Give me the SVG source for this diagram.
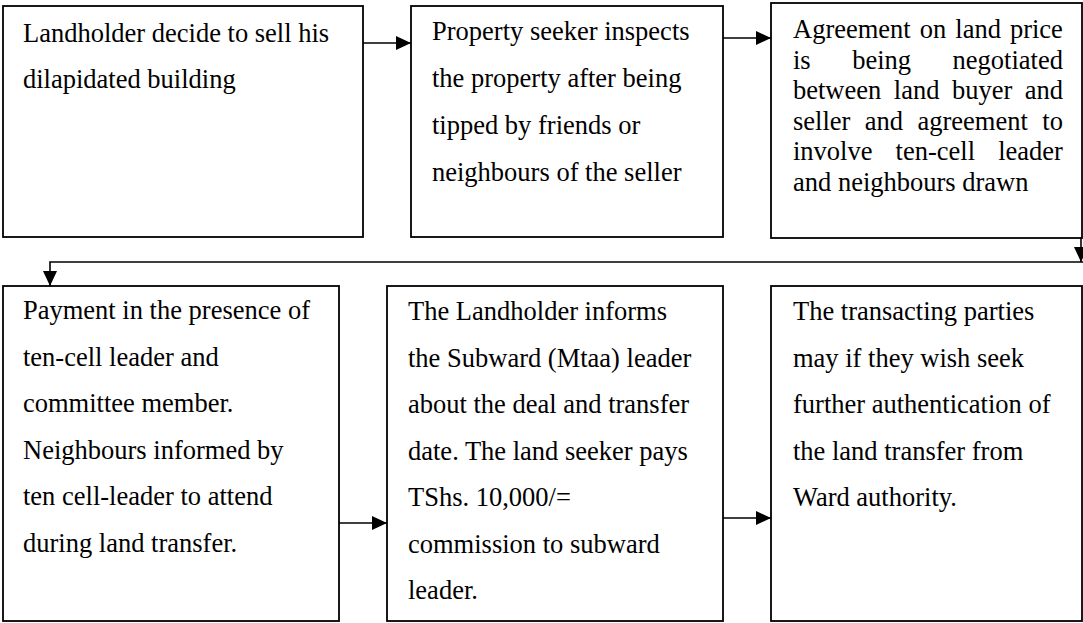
<svg xmlns="http://www.w3.org/2000/svg" width="1083" height="623" viewBox="0 0 1083 623">
<style>
.box{fill:#fff;stroke:#000;stroke-width:1.8}
.t{font-family:"Liberation Serif","Times New Roman",serif;font-size:26.5px;fill:#000}
.c{fill:none;stroke:#000;stroke-width:1.6}
</style>
<defs>
<marker id="ah" markerUnits="userSpaceOnUse" markerWidth="16" markerHeight="14" refX="15" refY="7" orient="auto">
<path d="M0,0 L15,7 L0,14 z" fill="#000"/>
</marker>
</defs>
<rect width="1083" height="623" fill="#fff"/>
<g id="connectors">
<line class="c" x1="363" y1="43" x2="411" y2="43" marker-end="url(#ah)"/>
<line class="c" x1="723" y1="38" x2="771" y2="38" marker-end="url(#ah)"/>
<line class="c" x1="1081" y1="238" x2="1081" y2="262" marker-end="url(#ah)"/>
<polyline class="c" points="1083,262 50,262 50,286" marker-end="url(#ah)"/>
<line class="c" x1="339" y1="523" x2="387" y2="523" marker-end="url(#ah)"/>
<line class="c" x1="723" y1="518" x2="771" y2="518" marker-end="url(#ah)"/>
</g>
<g id="n1">
<rect class="box" x="3" y="6" width="360" height="231"/>
<text class="t" x="23" y="42">Landholder decide to sell his</text>
<text class="t" x="23" y="88">dilapidated building</text>
</g>
<g id="n2">
<rect class="box" x="411" y="6" width="312" height="231"/>
<text class="t" x="432" y="40">Property seeker inspects</text>
<text class="t" x="432" y="87">the property after being</text>
<text class="t" x="432" y="134">tipped by friends or</text>
<text class="t" x="432" y="181">neighbours of the seller</text>
</g>
<g id="n3">
<rect class="box" x="771" y="3" width="311" height="235"/>
<text class="t" x="793" y="38" word-spacing="2.4">Agreement on land price</text>
<text class="t" x="793" y="68.6" word-spacing="34.9">is being negotiated</text>
<text class="t" x="793" y="99.2" word-spacing="5.9">between land buyer and</text>
<text class="t" x="793" y="129.8" word-spacing="7.8">seller and agreement to</text>
<text class="t" x="793" y="160.4" word-spacing="16.5">involve ten-cell leader</text>
<text class="t" x="793" y="191">and neighbours drawn</text>
</g>
<g id="n4">
<rect class="box" x="3" y="286" width="336" height="335"/>
<text class="t" x="23" y="319">Payment in the presence of</text>
<text class="t" x="23" y="365.5">ten-cell leader and</text>
<text class="t" x="23" y="412">committee member.</text>
<text class="t" x="23" y="458.5">Neighbours informed by</text>
<text class="t" x="23" y="505">ten cell-leader to attend</text>
<text class="t" x="23" y="551.5">during land transfer.</text>
</g>
<g id="n5">
<rect class="box" x="387" y="286" width="336" height="335"/>
<text class="t" x="408" y="320">The Landholder informs</text>
<text class="t" x="408" y="366.5">the Subward (Mtaa) leader</text>
<text class="t" x="408" y="413">about the deal and transfer</text>
<text class="t" x="408" y="459.5">date. The land seeker pays</text>
<text class="t" x="408" y="506">TShs. 10,000/=</text>
<text class="t" x="408" y="552.5">commission to subward</text>
<text class="t" x="408" y="599">leader.</text>
</g>
<g id="n6">
<rect class="box" x="771" y="286" width="311" height="335"/>
<text class="t" x="793" y="320">The transacting parties</text>
<text class="t" x="793" y="366.5">may if they wish seek</text>
<text class="t" x="793" y="413">further authentication of</text>
<text class="t" x="793" y="459.5">the land transfer from</text>
<text class="t" x="793" y="506">Ward authority.</text>
</g>
</svg>
